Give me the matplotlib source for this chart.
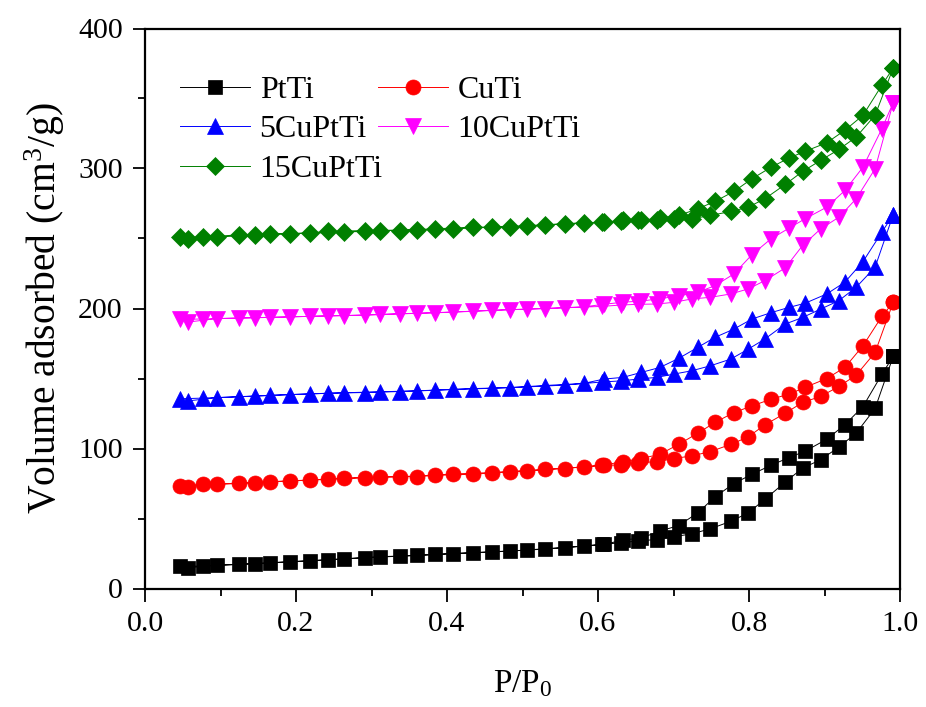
import matplotlib
matplotlib.use("Agg")
import matplotlib.pyplot as plt
from matplotlib.ticker import MultipleLocator, FormatStrFormatter

plt.rcParams['font.family'] = ['Liberation Serif', 'DejaVu Serif']
plt.rcParams['mathtext.fontset'] = 'custom'
plt.rcParams['mathtext.rm'] = 'Liberation Serif'
plt.rcParams['mathtext.it'] = 'Liberation Serif:italic'

# ---------------- data ----------------
x_ads = [0.046, 0.077, 0.124, 0.166, 0.219, 0.263, 0.311, 0.360, 0.408, 0.459,
         0.506, 0.556, 0.605, 0.631, 0.653, 0.678, 0.700, 0.724, 0.749, 0.776,
         0.799, 0.821, 0.848, 0.871, 0.895, 0.919, 0.942, 0.967, 0.991]
x_des = [0.991, 0.976, 0.951, 0.927, 0.903, 0.874, 0.853, 0.829, 0.804, 0.780,
         0.755, 0.732, 0.707, 0.682, 0.657, 0.633, 0.608, 0.581, 0.530, 0.483,
         0.435, 0.384, 0.338, 0.291, 0.243, 0.192, 0.146, 0.095, 0.057]

ptti_ads = [16.0, 16.0, 17.2, 18.4, 19.8, 21.2, 22.7, 23.6, 25.0, 26.2,
            27.4, 29.1, 31.5, 32.7, 34.0, 35.0, 37.0, 39.0, 42.7, 48.0,
            54.0, 63.7, 76.0, 86.0, 92.0, 101.0, 111.0, 128.6, 165.8]
ptti_des = [165.8, 153.0, 130.0, 117.0, 106.6, 98.0, 93.5, 88.0, 81.6, 75.0,
            65.4, 54.0, 45.0, 41.0, 36.0, 34.6, 31.5, 30.3, 28.4, 26.7,
            25.5, 24.3, 23.1, 22.0, 20.5, 19.1, 17.7, 16.7, 14.8]

cuti_ads = [73.2, 74.4, 75.1, 76.3, 77.5, 78.7, 79.7, 79.9, 81.8, 82.8,
            83.9, 85.7, 88.0, 88.2, 89.9, 90.6, 92.8, 94.7, 97.8, 103.0,
            108.3, 116.9, 125.2, 132.9, 137.2, 144.3, 152.4, 168.6, 204.4]
cuti_des = [204.4, 194.4, 173.4, 157.9, 150.0, 143.6, 138.8, 135.2, 130.4, 125.7,
            118.6, 110.9, 103.0, 95.9, 92.8, 90.6, 88.2, 86.8, 85.2, 83.5,
            81.6, 80.9, 79.9, 79.2, 78.0, 76.8, 75.6, 74.4, 72.8]

cu5_ads = [135.5, 136.0, 137.0, 138.0, 139.0, 139.8, 140.5, 141.2, 142.2, 143.0,
           144.0, 145.3, 147.5, 148.3, 149.6, 150.8, 153.1, 155.5, 159.1, 163.9,
           171.0, 178.2, 188.9, 193.6, 199.6, 205.6, 215.2, 229.5, 267.0]
cu5_des = [267.0, 254.5, 233.5, 218.8, 210.4, 203.7, 200.8, 197.0, 192.5, 185.3,
           179.4, 172.2, 164.4, 157.9, 154.3, 150.8, 149.6, 146.5, 145.0, 143.5,
           142.8, 141.6, 140.7, 140.0, 139.5, 138.5, 137.4, 136.3, 134.0]

cu10_ads = [192.3, 192.5, 193.2, 193.7, 194.4, 194.9, 195.8, 196.6, 197.5, 198.7,
            199.5, 200.5, 201.5, 202.5, 203.0, 203.2, 204.4, 206.8, 208.0, 210.4,
            214.0, 219.9, 229.0, 245.0, 256.9, 265.2, 278.4, 299.8, 347.0]
cu10_des = [347.0, 328.4, 301.0, 284.3, 272.4, 264.0, 257.4, 249.7, 238.5, 224.7,
            216.3, 211.6, 209.0, 207.0, 205.3, 204.5, 203.0, 201.2, 200.0, 199.2,
            198.0, 196.9, 196.2, 195.2, 194.8, 194.0, 193.4, 192.8, 190.3]

cu15_ads = [251.0, 251.0, 252.6, 253.3, 253.8, 254.5, 255.7, 256.4, 256.9, 258.1,
            259.2, 260.5, 261.7, 262.5, 262.9, 263.5, 264.0, 264.0, 266.5, 269.3,
            272.4, 278.4, 288.6, 297.9, 305.8, 313.6, 322.5, 338.0, 371.8]
cu15_des = [371.8, 359.5, 338.0, 327.3, 318.4, 312.2, 307.5, 300.8, 292.7, 283.6,
            276.5, 271.2, 266.5, 264.5, 263.0, 262.9, 261.7, 261.2, 259.7, 258.1,
            258.1, 256.9, 255.7, 255.7, 255.0, 253.3, 252.6, 251.0, 249.7]

labels = ["PtTi", "CuTi", "5CuPtTi", "10CuPtTi", "15CuPtTi"]
x_ticks = [0.0, 0.2, 0.4, 0.6, 0.8, 1.0]
y_ticks = [0, 100, 200, 300, 400]

series = [
    (ptti_ads, ptti_des, '#000000', 's', 9.8),
    (cuti_ads, cuti_des, '#FF0000', 'o', 10.8),
    (cu5_ads, cu5_des, '#0000FF', '^', 12),
    (cu10_ads, cu10_des, '#FF00FF', 'v', 12),
    (cu15_ads, cu15_des, '#008000', 'D', 9.4),
]

# ---------------- figure ----------------
fig = plt.figure(figsize=(9.26, 7.07), dpi=100)
ax = fig.add_axes([145 / 926, 1 - 588.5 / 707, 755 / 926, 560 / 707])

handles = []
for (ya, yd, col, mk, ms), lab in zip(series, labels):
    xs = x_ads + x_des
    ys = ya + yd
    h, = ax.plot(xs, ys, color=col, lw=0.7, marker=mk, ms=ms,
                 mfc=col, mec=col, mew=0.5, label=lab)
    handles.append(h)

ax.set_xlim(0.0, 1.0)
ax.set_ylim(0, 400)
ax.set_xticks(x_ticks)
ax.set_yticks(y_ticks)
ax.xaxis.set_minor_locator(MultipleLocator(0.1))
ax.yaxis.set_minor_locator(MultipleLocator(50))
ax.xaxis.set_major_formatter(FormatStrFormatter('%.1f'))
ax.tick_params(which='both', direction='out', top=False, right=False,
               labelsize=21.5, width=1.3)
ax.tick_params(which='major', length=9, pad=7)
ax.tick_params(which='minor', length=5)
for s in ax.spines.values():
    s.set_linewidth(1.6)

ax.set_xlabel("P/P$_\\mathregular{0}$", fontsize=24, labelpad=23)
ax.set_ylabel("Volume adsorbed (cm$^\\mathregular{3}$/g)", fontsize=28.5, labelpad=8)

order = [0, 2, 4, 1, 3]
ax.legend([handles[i] for i in order], [labels[i] for i in order],
          ncol=2, loc='upper left', bbox_to_anchor=(0.046, 0.916),
          frameon=False, fontsize=23, handlelength=2.2, handletextpad=0.3,
          borderpad=0, borderaxespad=0, labelspacing=0.32, columnspacing=-0.16)

fig.savefig("out.png", dpi=100)
